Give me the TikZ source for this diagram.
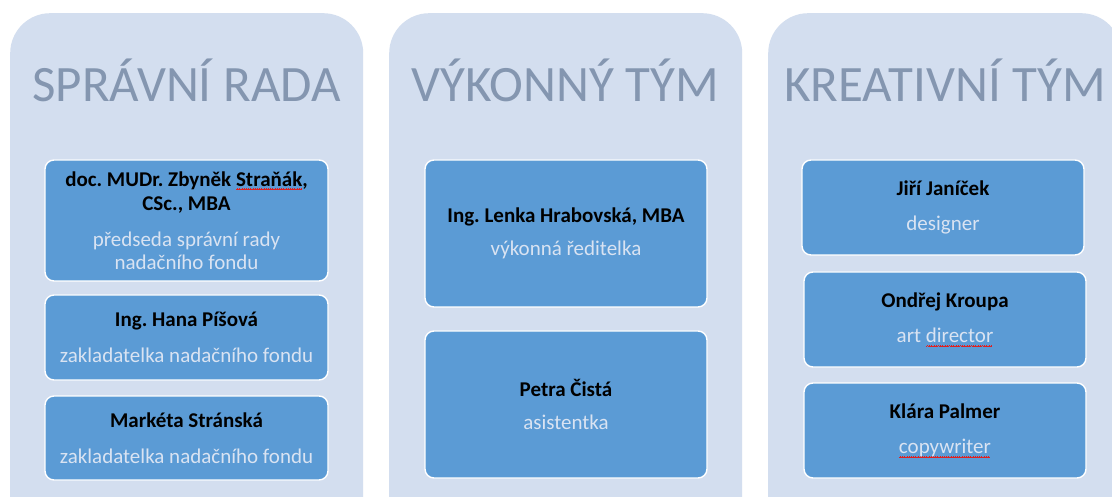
\documentclass[tikz,border=0pt]{standalone}
\usepackage{fontspec}
\setmainfont{Carlito}
\frenchspacing
\definecolor{panel}{HTML}{D3DEEF}
\definecolor{boxfill}{HTML}{5B9BD5}
\definecolor{titlec}{HTML}{8496B0}
\definecolor{role}{HTML}{D9E3F2}
\definecolor{squigc}{HTML}{E02020}
\newsavebox\sqbox
\newcommand\wavecell{\hbox{{\color{squigc}\rule[-3.6pt]{0.55pt}{0.45pt}\rule[-3.2pt]{0.55pt}{0.45pt}\rule[-2.8pt]{0.55pt}{0.45pt}\rule[-3.2pt]{0.55pt}{0.45pt}}}}
\newcommand\squig[1]{\sbox\sqbox{#1}\rlap{\leaders\wavecell\hskip\wd\sqbox}\usebox\sqbox}
\newcommand\nm[1]{\textbf{#1}}
\newcommand\rl[1]{{\color{role}#1}}
\begin{document}
\begin{tikzpicture}[x=1pt,y=-1pt,
  panelbox/.style={fill=panel, rounded corners=40pt, minimum width=353pt, minimum height=540pt, anchor=north west, inner sep=0pt},
  member/.style={draw=white, line width=1.4pt, fill=boxfill, rounded corners=9pt, minimum width=282pt, align=center, font=\fontsize{21}{24.5}\selectfont\frenchspacing, inner sep=0pt},
  ptitle/.style={text=titlec, font=\fontsize{51}{60}\selectfont, anchor=base, inner sep=0pt}]
\useasboundingbox (0,0) rectangle (1112,497);
\clip (0,0) rectangle (1112,497);
\fill[white] (0,0) rectangle (1112,497);
% panels
\node[panelbox] (p1) at (10,13) {};
\node[panelbox] (p2) at (389,13) {};
\node[panelbox] (p3) at (768,13) {};
% titles
\node[ptitle] (t1) at (186.5,102) {SPRÁVNÍ RADA};
\node[ptitle] (t2) at (565.5,102) {VÝKONNÝ TÝM};
\node[ptitle] (t3) at (945,102) {KREATIVNÍ TÝM};
% panel 1 members
\node[member, minimum width=283pt, minimum height=121pt] (a1) at (186.5,220.5)
  {\nm{doc. MUDr. Zbyněk \squig{Straňák},}\\ \nm{CSc., MBA}\\[11pt] \rl{předseda správní rady}\\[-1pt] \rl{nadačního fondu}};
\node[member, minimum width=283pt, minimum height=85pt] (a2) at (186.5,337.5)
  {\nm{Ing. Hana Píšová}\\[11pt] \rl{zakladatelka nadačního fondu}};
\node[member, minimum width=283pt, minimum height=84pt] (a3) at (186.5,438)
  {\nm{Markéta Stránská}\\[11pt] \rl{zakladatelka nadačního fondu}};
% panel 2 members
\node[member, minimum height=147pt] (b1) at (566,233.5)
  {\nm{Ing. Lenka Hrabovská, MBA}\\[9pt] \rl{výkonná ředitelka}};
\node[member, minimum height=147pt] (b2) at (566,404.5)
  {\nm{Petra Čistá}\\[9pt] \rl{asistentka}};
% panel 3 members
\node[member, minimum height=95pt] (c1) at (943,207.5)
  {\nm{Jiří Janíček}\\[11pt] \rl{designer}};
\node[member, minimum height=95pt] (c2) at (945,319.5)
  {\nm{Ondřej Kroupa}\\[11pt] \rl{art \squig{director}}};
\node[member, minimum height=95pt] (c3) at (945,430.5)
  {\nm{Klára Palmer}\\[11pt] \rl{\squig{copywriter}}};
\end{tikzpicture}
\end{document}
